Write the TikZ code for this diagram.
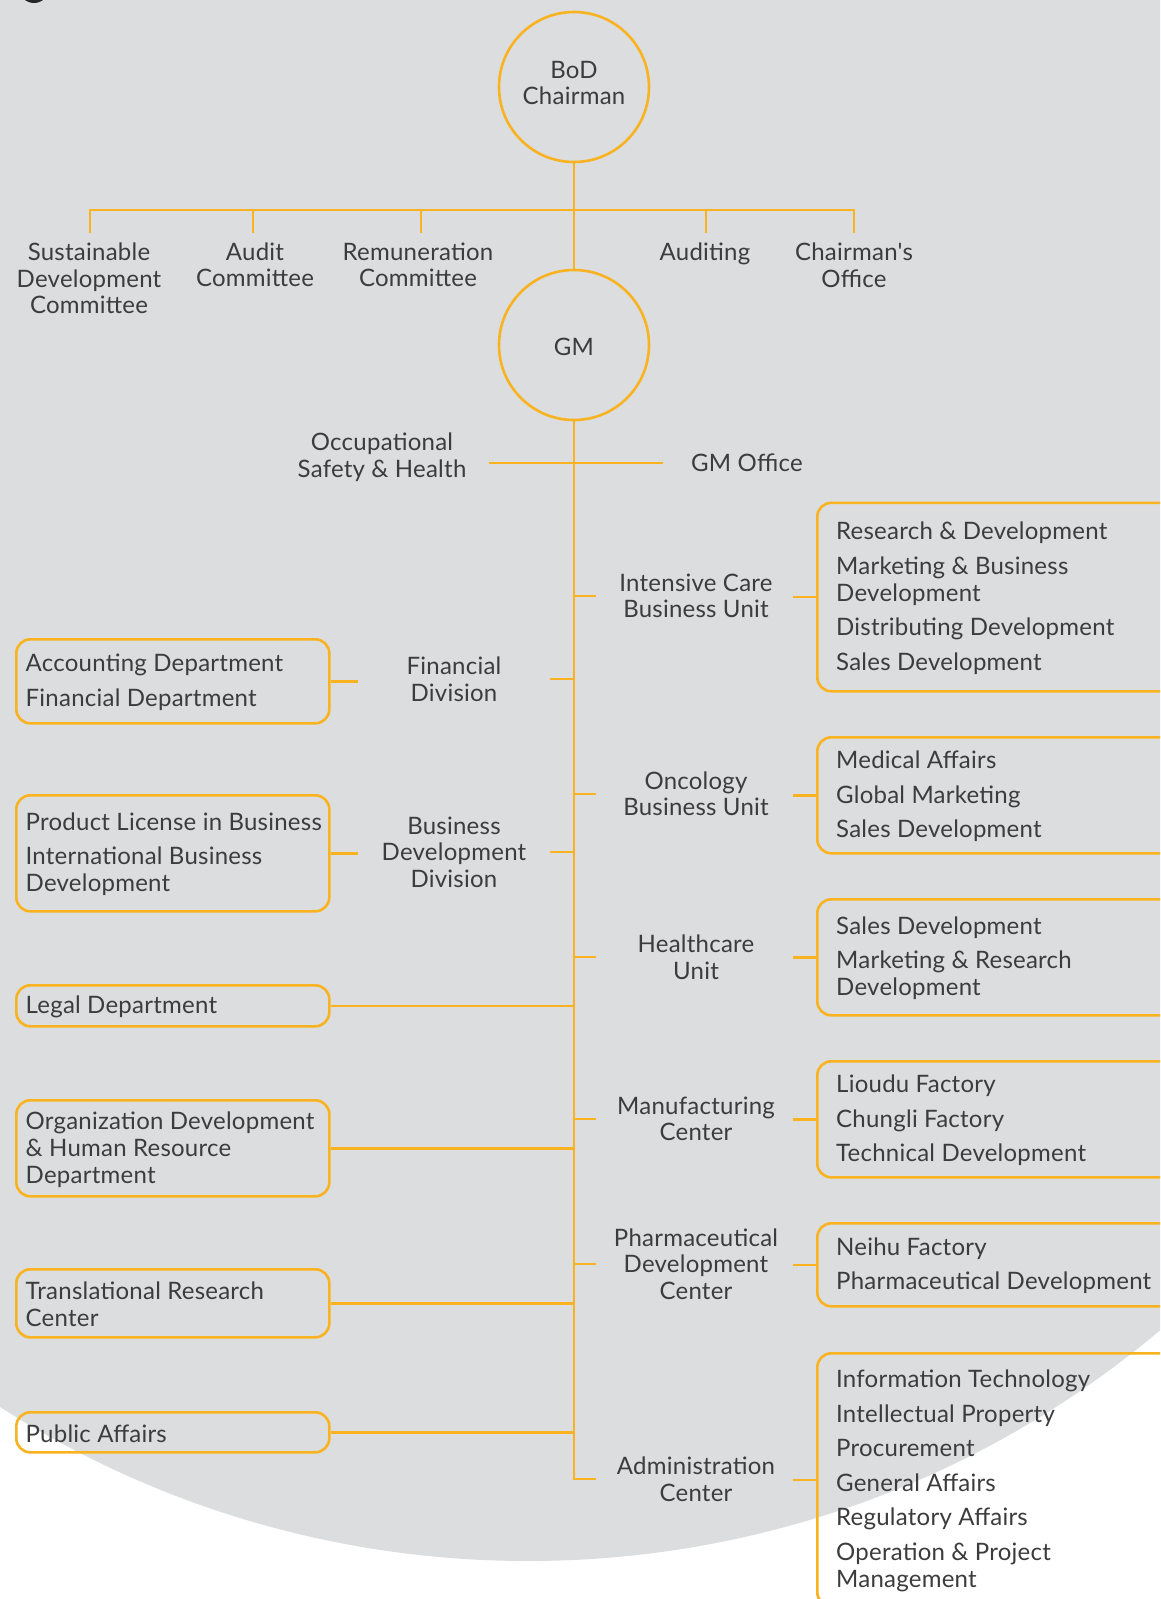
\documentclass[tikz,border=0pt]{standalone}
\usepackage{fontspec}
\setmainfont{Lato}[LetterSpace=1, Ligatures=TeXOff]
\definecolor{bgray}{RGB}{220,221,223}
\definecolor{orng}{RGB}{249,178,32}
\definecolor{txt}{RGB}{60,60,60}
\begin{document}
\begin{tikzpicture}[x=1pt,y=-1pt,
  conn/.style={draw=orng,line width=2.6pt},
  lbl/.style={font=\fontsize{24}{26.5}\selectfont, text=txt, align=center, inner sep=0pt},
  itm/.style={font=\fontsize{24}{27}\selectfont, text=txt, align=left, inner sep=0pt, anchor=west},
  circ/.style={circle, draw=orng, line width=2.6pt, minimum size=150pt, inner sep=0pt},
  rbox/.style={draw=orng, line width=2.6pt, rounded corners=14pt, inner sep=0pt,
    anchor=north west, minimum width=370pt},
  lbox/.style={draw=orng, line width=2.6pt, rounded corners=14pt, inner sep=0pt,
    anchor=north west, minimum width=313pt},
]
\useasboundingbox (0,0) rectangle (1160,1599);
\clip (0,0) rectangle (1160,1599);
\fill[white] (0,0) rectangle (1160,1599);
\fill[bgray] (528,580) circle[radius=981pt];
\fill[black!85] (34,-12) circle[radius=15pt];

% top
\node[circ] (bod) at (574,87) {};
\node[circ] (gm) at (574,345) {};
\node[lbl] (bodt) at (574,83) {BoD\\Chairman};
\node[lbl] (gmt) at (574,347) {GM};

\node[lbl] (sdc) at (89,278.5) {Sustainable\\Development\\Committee};
\node[lbl] (aud) at (255,265) {Audit\\Committee};
\node[lbl] (rem) at (418,265) {Remuneration\\Committee};
\node[lbl] (audt) at (705,254) {Auditing};
\node[lbl] (cho) at (854,265) {Chairman's\\Office};

\coordinate (d1) at (90,233);
\coordinate (d2) at (253,233);
\coordinate (d3) at (421,233);
\coordinate (d5) at (706,233);
\coordinate (d6) at (854,233);
\coordinate (busR) at (854,210);
\draw[conn] (d1) |- (busR) -- (d6);
\draw[conn] (d2) -- (d2 |- busR);
\draw[conn] (d3) -- (d3 |- busR);
\draw[conn] (d5) -- (d5 |- busR);

\node[lbl] (osh) at (382,457) {Occupational\\Safety \& Health};
\node[lbl, anchor=west] (gmo) at (691,463) {GM Office};
\coordinate (oshL) at (489,463);
\coordinate (oshR) at (663,463);
\draw[conn] (oshL) -- (oshR);

% right boxes
\node[rbox, minimum height=188.5pt] (icbox) at (816,501.5) {};
\node[rbox, minimum height=116pt] (oncbox) at (816,736) {};
\node[rbox, minimum height=116pt] (hcbox) at (816,898) {};
\node[rbox, minimum height=116pt] (mfgbox) at (816,1060) {};
\node[rbox, minimum height=83pt] (phbox) at (816,1222) {};
\node[rbox, minimum height=253pt] (admbox) at (816,1352) {};

\node[itm] (ictxt) at ([xshift=20pt,yshift=-1pt]icbox.west) {Research \& Development\\[7.5pt]Marketing \& Business\\Development\\[7.5pt]Distributing Development\\[7.5pt]Sales Development};
\node[itm] (onctxt) at ([xshift=20pt,yshift=-1pt]oncbox.west) {Medical Affairs\\[7.5pt]Global Marketing\\[7.5pt]Sales Development};
\node[itm] (hctxt) at ([xshift=20pt,yshift=-1pt]hcbox.west) {Sales Development\\[7.5pt]Marketing \& Research\\Development};
\node[itm] (mfgtxt) at ([xshift=20pt,yshift=-1pt]mfgbox.west) {Lioudu Factory\\[7.5pt]Chungli Factory\\[7.5pt]Technical Development};
\node[itm] (phtxt) at ([xshift=20pt,yshift=-1pt]phbox.west) {Neihu Factory\\[7.5pt]Pharmaceutical Development};
\node[itm] (admtxt) at ([xshift=20pt,yshift=-1pt]admbox.west) {Information Technology\\[7.5pt]Intellectual Property\\[7.5pt]Procurement\\[7.5pt]General Affairs\\[7.5pt]Regulatory Affairs\\[7.5pt]Operation \& Project\\Management};

% right labels
\node[lbl] (icl) at (696,596) {Intensive Care\\Business Unit};
\node[lbl] (oncl) at (696,794) {Oncology\\Business Unit};
\node[lbl] (hcl) at (696,957) {Healthcare\\Unit};
\node[lbl] (mfgl) at (696,1119) {Manufacturing\\Center};
\node[lbl] (phl) at (696,1264) {Pharmaceutical\\Development\\Center};
\node[lbl] (adml) at (696,1479) {Administration\\Center};

% left boxes
\node[lbox, minimum height=84pt] (finbox) at (15,638) {};
\node[lbox, minimum height=116pt] (bdbox) at (15,794) {};
\node[lbox, minimum height=41pt] (legbox) at (15,984) {};
\node[lbox, minimum height=96pt] (orgbox) at (15,1099) {};
\node[lbox, minimum height=68pt] (trcbox) at (15,1268) {};
\node[lbox, minimum height=40pt] (pabox) at (15,1411) {};

\node[itm] (fintxt) at ([xshift=10.5pt,yshift=-1pt]finbox.west) {Accounting Department\\[7.5pt]Financial Department};
\node[itm] (bdtxt) at ([xshift=10.5pt,yshift=-1pt]bdbox.west) {Product License in Business\\[7.5pt]International Business\\Development};
\node[itm] (legtxt) at ([xshift=10.5pt,yshift=-1pt]legbox.west) {Legal Department};
\node[itm] (orgtxt) at ([xshift=10.5pt,yshift=-1pt]orgbox.west) {Organization Development\\\& Human Resource\\Department};
\node[itm] (trctxt) at ([xshift=10.5pt,yshift=-1pt]trcbox.west) {Translational Research\\Center};
\node[itm] (patxt) at ([xshift=10.5pt,yshift=-1pt]pabox.west) {Public Affairs};

\node[lbl] (finl) at (454,679) {Financial\\Division};
\node[lbl] (bdl) at (454,852) {Business\\Development\\Division};

% trunk
\draw[conn] (bod.south) -- (gm.north);
\draw[conn] (gm.south) -- (gm.south |- adml) -- ++(22,0);
\coordinate (trk) at (574,0);

% right stubs
\foreach \l in {icl,oncl,hcl,mfgl,phl}{
  \draw[conn] (\l -| trk) -- ++(22,0);
}
\foreach \b in {icbox,oncbox,hcbox,mfgbox,phbox,admbox}{
  \draw[conn] (\b.west) -- ++(-23,0);
}
% left stubs
\draw[conn] (finl -| trk) -- ++(-24,0);
\draw[conn] (bdl -| trk) -- ++(-24,0);
\draw[conn] (finbox.east) -- ++(27,0);
\draw[conn] (bdbox.east) -- ++(27,0);
\foreach \b in {legbox,orgbox,trcbox,pabox}{
  \draw[conn] (\b.east) -- (\b.east -| trk);
}
\end{tikzpicture}
\end{document}
